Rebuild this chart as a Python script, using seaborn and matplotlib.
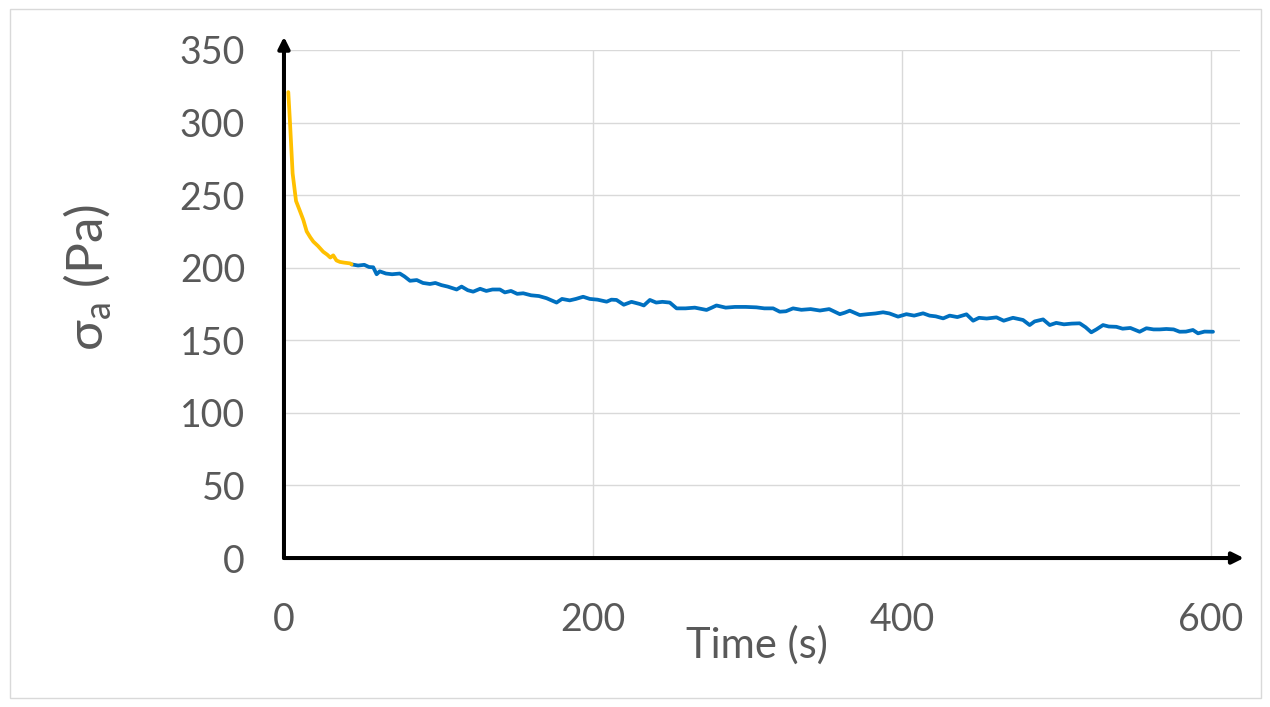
import matplotlib
matplotlib.use("Agg")
import matplotlib.pyplot as plt
import seaborn as sns
import pandas as pd
from matplotlib.patches import Rectangle

# initial decay (yellow) segment
fast_t = [2.8, 3.9, 5.6, 7.8, 10, 12.5, 14.7, 17, 19, 22, 25.4, 28, 30, 31.9, 34, 36.2, 39, 42.7, 43.8]
fast_y = [321, 300, 265, 246, 240, 233, 225, 221, 218, 215, 211, 209, 207, 208.5, 205, 204, 203.5, 203, 202.3]

# slow relaxation (blue) segment
slow_t = [43.8, 48, 52, 55, 57.8, 60, 62, 66, 70, 75,
          78, 81.6, 86, 90, 94.5, 98, 102, 106, 111.8, 115,
          119, 122.5, 127, 131, 135, 139.8, 143, 147, 151, 154.9,
          160, 165, 170, 176.5, 180, 185, 189, 193.7, 198, 203,
          208.9, 212, 215.3, 220, 225, 230.4, 233, 236.9, 241, 245,
          249.8, 254.2, 260, 266, 273.6, 277, 280, 286, 292, 299,
          305.9, 311, 316.7, 321, 325, 329.6, 335, 341, 347, 353,
          359.9, 363, 366.3, 372.8, 378, 383, 387.9, 392, 397.6, 403,
          408, 413.8, 418, 422, 426.8, 431, 436, 441.9, 446.2, 450,
          455, 461.3, 466, 472, 478.5, 482.8, 486, 491.5, 495.8, 500,
          505, 510, 515.2, 519, 522.7, 526, 530.3, 534, 538.9, 543,
          548, 554, 558.4, 563, 567, 571.3, 576, 579.9, 584, 588.5,
          591.8, 596, 601.5]
slow_y = [202.3, 201.5, 202, 200.5, 200.3, 195.5, 197.5, 196, 195.5, 196,
          194, 191, 191.5, 189.5, 188.8, 189.5, 188, 187, 185, 187,
          184.5, 183.5, 185.5, 184, 185, 185, 183, 184, 182, 182.4,
          181, 180.5, 179, 176, 178.5, 177.5, 178.5, 180, 178.5, 178,
          176.6, 178, 177.8, 174.5, 176.5, 175, 174, 177.8, 176, 176.5,
          176, 172, 172, 172.5, 170.9, 172.5, 174, 172.5, 173, 173,
          172.7, 172, 172, 169.7, 170, 172, 171, 171.5, 170.5, 171.5,
          168, 169, 170.4, 167.4, 168, 168.5, 169.3, 168.5, 166.3, 168,
          167, 168.6, 167, 166.5, 165.1, 167, 166, 167.9, 163.5, 165.5,
          165, 165.8, 163.5, 165.5, 164, 160.5, 163, 164.4, 160.5, 162,
          161, 161.5, 161.7, 159, 155.5, 157.5, 160.5, 159.5, 159.3, 158,
          158.5, 155.9, 158.3, 157.5, 157.5, 157.8, 157.5, 155.9, 156, 157.1,
          154.8, 156, 155.9]

x_ticks = [0, 200, 400, 600]
y_ticks = [0, 50, 100, 150, 200, 250, 300, 350]

sns.set_style("white")
plt.rcParams['font.family'] = ['Lato', 'DejaVu Sans']

fig = plt.figure(figsize=(12.7, 7.07), dpi=100)
ax = fig.add_axes([0.2236, 0.2107, 0.7528, 0.7186])

fast = pd.DataFrame({"t": fast_t, "s": fast_y})
slow = pd.DataFrame({"t": slow_t, "s": slow_y})
sns.lineplot(data=slow, x="t", y="s", color="#0070C0", linewidth=2.7, ax=ax)
sns.lineplot(data=fast, x="t", y="s", color="#FFC000", linewidth=2.7, ax=ax)

ax.set_xlim(0, 619)
ax.set_ylim(0, 350)
ax.set_xticks(x_ticks)
ax.set_yticks(y_ticks)
ax.grid(True, color="#d9d9d9", linewidth=1)
ax.set_axisbelow(True)
for s in ax.spines.values():
    s.set_visible(False)
ax.tick_params(axis="both", length=0, labelsize=27, labelcolor="#595959")
ax.tick_params(axis="y", pad=28)
ax.tick_params(axis="x", pad=32)

# axis arrows
for tip in [(0, 1.026), (1.004, 0)]:
    ax.annotate("", xy=tip, xytext=(0, 0), xycoords="axes fraction",
                arrowprops=dict(arrowstyle="-|>", color="black", lw=2.9,
                                mutation_scale=17, shrinkA=0, shrinkB=0),
                annotation_clip=False)

ax.set_xlabel("Time (s)", fontsize=30, color="#595959")
ax.xaxis.set_label_coords(0.495, -0.171)
ax.xaxis.label.set_va("center")
ax.set_ylabel("σ$_\\mathregular{a}$ (Pa)", fontsize=37, color="#595959")
ax.yaxis.set_label_coords(-0.205, 0.553)
ax.yaxis.label.set_va("center")

fig.patches.append(Rectangle((0.0075, 0.013), 0.9855, 0.974, transform=fig.transFigure,
                             fill=False, edgecolor="#d9d9d9", linewidth=1))

fig.savefig("out.png", dpi=100, facecolor="white")
